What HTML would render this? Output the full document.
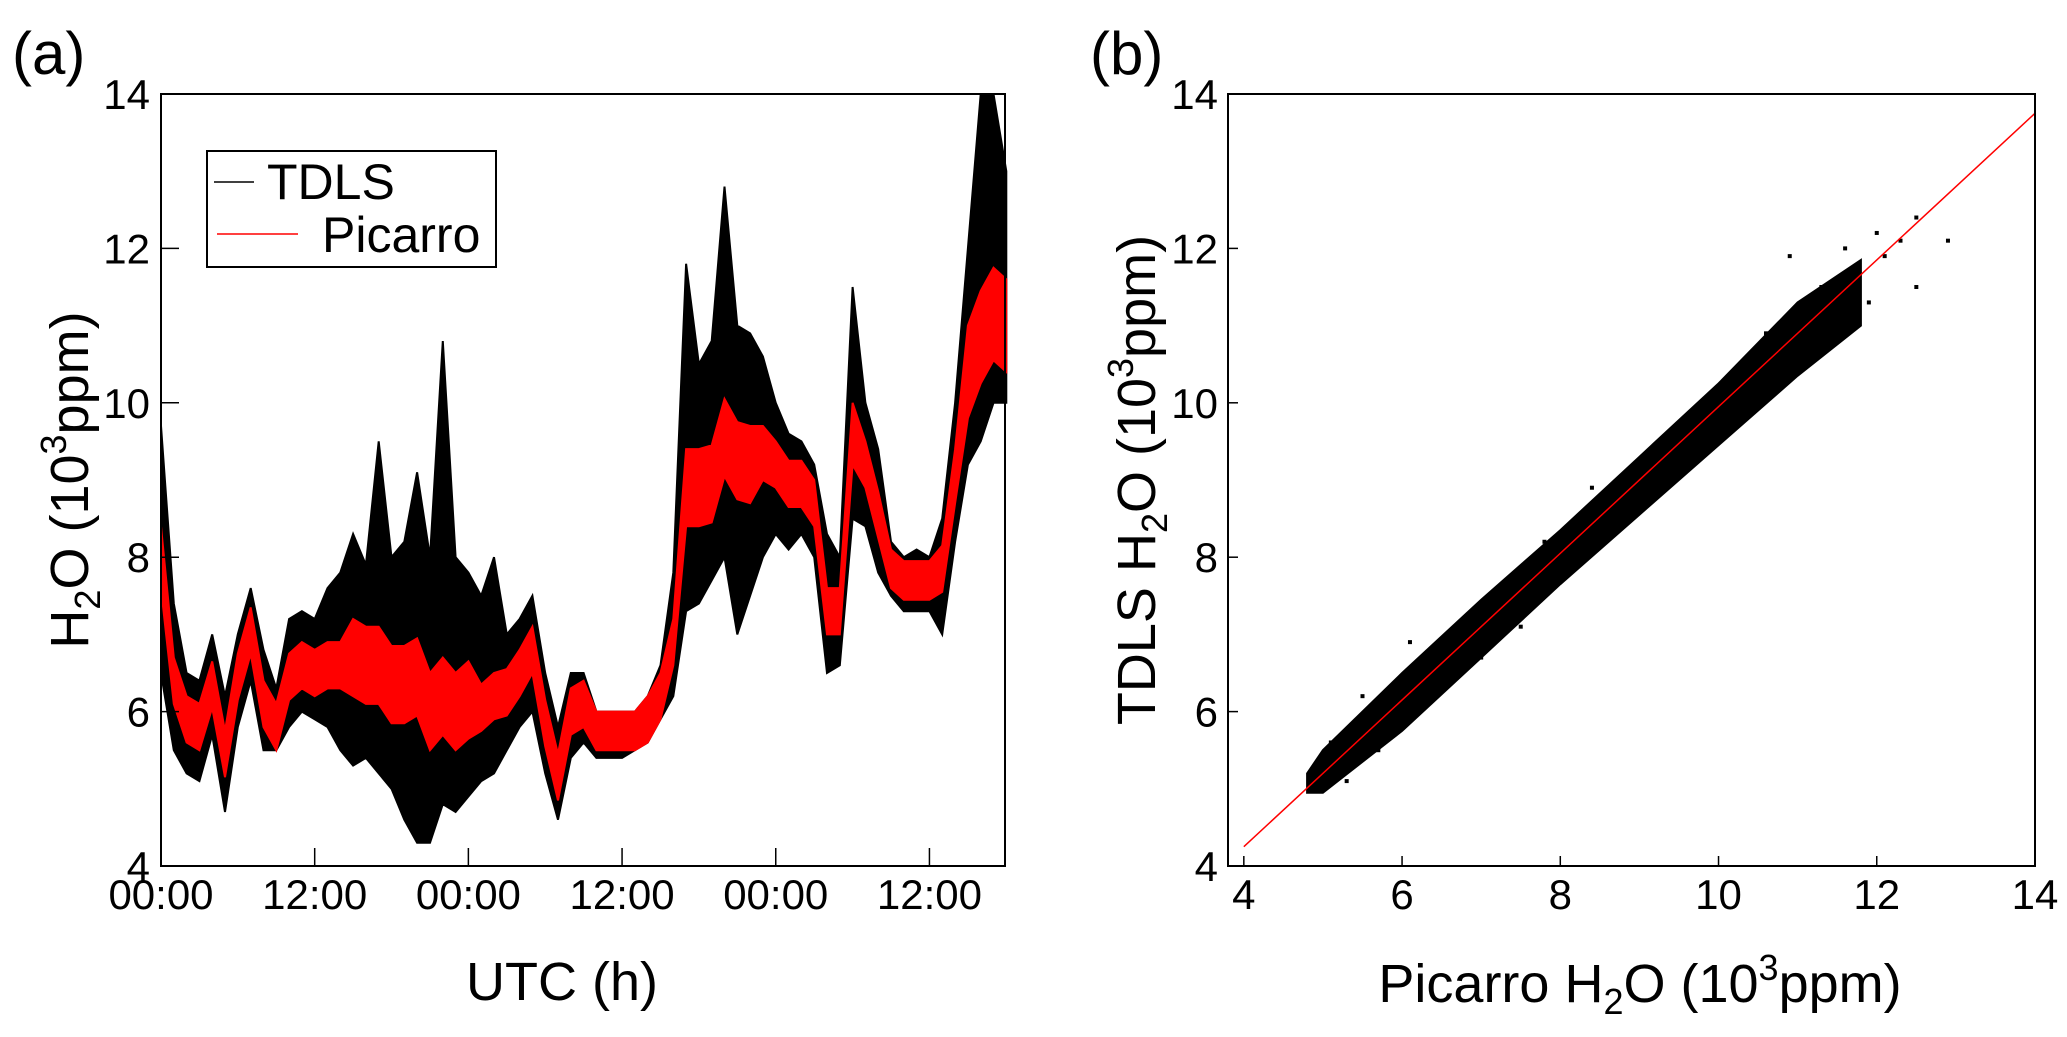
<!DOCTYPE html>
<html><head><meta charset="utf-8"><style>
html,body{margin:0;padding:0;background:#fff}
svg text{font-family:"Liberation Sans",Arial,sans-serif;fill:#000}
</style></head><body>
<svg id="fig" width="2067" height="1032" viewBox="0 0 2067 1032" xmlns="http://www.w3.org/2000/svg">
<rect width="2067" height="1032" fill="#fff"/>
<g id="pa"></g>
<g id="pb"></g>
</svg>
<script>
// ---------- Panel (a) data: hourly envelopes ----------
const hours = [];
for (let h = 0; h <= 66; h++) hours.push(h);
const tdlsMin = [6.5,5.5,5.2,5.1,5.7,4.7,5.8,6.4,5.5,5.5,5.8,6.0,5.9,5.8,5.5,5.3,5.4,5.2,5.0,4.6,4.3,4.3,4.8,4.7,4.9,5.1,5.2,5.5,5.8,6.0,5.2,4.6,5.4,5.6,5.4,5.4,5.4,5.5,5.6,5.9,6.2,7.3,7.4,7.7,8.0,7.0,7.5,8.0,8.3,8.1,8.3,8.0,6.5,6.6,8.5,8.4,7.8,7.5,7.3,7.3,7.3,7.0,8.2,9.2,9.5,10.0,10.0];
const tdlsMax = [9.7,7.4,6.5,6.4,7.0,6.2,7.0,7.6,6.8,6.3,7.2,7.3,7.2,7.6,7.8,8.3,7.9,9.5,8.0,8.2,9.1,8.0,10.8,8.0,7.8,7.5,8.0,7.0,7.2,7.5,6.5,5.8,6.5,6.5,6.0,6.0,6.0,6.0,6.2,6.6,7.8,11.8,10.5,10.8,12.8,11.0,10.9,10.6,10.0,9.6,9.5,9.2,8.3,8.0,11.5,10.0,9.4,8.2,8.0,8.1,8.0,8.5,10.0,12.0,14.0,14.0,13.0];
const picMin = [7.6,6.1,5.6,5.5,6.05,5.15,6.15,6.75,5.8,5.5,6.15,6.3,6.2,6.3,6.3,6.2,6.1,6.1,5.85,5.85,5.95,5.5,5.7,5.5,5.65,5.75,5.9,5.95,6.2,6.5,5.55,4.85,5.7,5.8,5.5,5.5,5.5,5.5,5.6,5.9,6.6,8.4,8.4,8.45,9.05,8.75,8.7,9.0,8.9,8.65,8.65,8.4,7.0,7.0,9.2,8.9,8.25,7.6,7.45,7.45,7.45,7.55,8.7,9.8,10.25,10.55,10.4];
const picMax = [8.4,6.7,6.2,6.1,6.65,5.75,6.75,7.35,6.4,6.1,6.75,6.9,6.8,6.9,6.9,7.2,7.1,7.1,6.85,6.85,6.95,6.5,6.7,6.5,6.65,6.35,6.5,6.55,6.8,7.1,6.15,5.45,6.3,6.4,6.0,6.0,6.0,6.0,6.2,6.5,7.2,9.4,9.4,9.45,10.05,9.75,9.7,9.7,9.5,9.25,9.25,9.0,7.6,7.6,10.0,9.5,8.85,8.1,7.95,7.95,7.95,8.15,9.4,11.0,11.45,11.75,11.6];
const xTickHours = [0,12,24,36,48,60];
const xTickLabels = ["00:00","12:00","00:00","12:00","00:00","12:00"];
const yTicks = [4,6,8,10,12,14];

// ---------- Panel (b) data ----------
const bandX  = [4.8,5.0,6.0,7.0,8.0,9.0,10.0,11.0,11.8];
const bandLo = [4.95,4.95,5.75,6.7,7.65,8.55,9.45,10.35,11.0];
const bandHi = [5.2,5.5,6.5,7.45,8.35,9.3,10.25,11.3,11.85];
const outX = [5.1,5.5,6.3,6.8,7.3,7.5,8.4,9.0,9.7,10.4,10.9,11.3,11.6,12.0,12.3,12.5,12.9,12.5,11.9,12.1,5.7,6.1,7.0,8.1,9.4,10.2,11.0,5.3,5.9,6.6,7.8,8.8,10.6,11.5];
const outY = [5.6,6.2,6.6,7.2,7.6,7.1,8.9,8.8,9.6,10.4,11.9,11.5,12.0,12.2,12.1,12.4,12.1,11.5,11.3,11.9,5.5,6.9,6.7,7.9,9.2,9.8,10.8,5.1,6.3,6.4,8.2,8.5,10.9,11.0];
const fitSlope = 0.95, fitIntercept = 0.45;
const bXTicks = [4,6,8,10,12,14];
const bYTicks = [4,6,8,10,12,14];

const NS = "http://www.w3.org/2000/svg";
function mk(parent, tag, attrs, txt){
  const e = document.createElementNS(NS, tag);
  for (const k in attrs) e.setAttribute(k, attrs[k]);
  if (txt !== undefined) e.textContent = txt;
  parent.appendChild(e);
  return e;
}

// ---------- Panel (a) ----------
const A = {l:161, r:1005, t:94, b:866, xmax:65.9};
const ax = h => A.l + h/A.xmax*(A.r-A.l);
const ay = v => A.b - (v-4)/10*(A.b-A.t);
const pa = document.getElementById('pa');

function band(parent, xs, lo, hi, fx, fy, fill){
  let d = '';
  xs.forEach((x,i)=>{ d += (i?'L':'M') + fx(x).toFixed(1) + ' ' + fy(Math.min(hi[i],14)).toFixed(1); });
  for (let i = xs.length-1; i >= 0; i--) d += 'L' + fx(xs[i]).toFixed(1) + ' ' + fy(lo[i]).toFixed(1);
  return mk(parent,'path',{d:d+'Z', fill:fill, stroke:fill, 'stroke-width':2});
}
const tb = band(pa, hours, tdlsMin, tdlsMax, ax, ay, '#000');


const pb2 = band(pa, hours, picMin, picMax, ax, ay, '#f00');



const frameA = mk(pa,'rect',{x:A.l,y:A.t,width:A.r-A.l,height:A.b-A.t,fill:'none',stroke:'#000','stroke-width':2});


xTickHours.forEach((h,i)=>{
  const x = ax(h);
  const t = mk(pa,'line',{x1:x,x2:x,y1:A.b,y2:A.b-18,stroke:'#000','stroke-width':1.5});
  
  
  const l = mk(pa,'text',{x:x,y:909,'font-size':42,'text-anchor':'middle'}, xTickLabels[i]);
  
  
});
yTicks.forEach(v=>{
  const y = ay(v);
  const t = mk(pa,'line',{x1:A.l,x2:A.l+18,y1:y,y2:y,stroke:'#000','stroke-width':1.5});
  
  
  const l = mk(pa,'text',{x:150,y:y+15,'font-size':42,'text-anchor':'end'}, String(v));
  
  
});

// ---------- Panel (b) ----------
const B = {l:1228, r:2035, t:94, b:866, xmin:3.8, xmax:14};
const bx = v => B.l + (v-B.xmin)/(B.xmax-B.xmin)*(B.r-B.l);
const by = v => B.b - (v-4)/10*(B.b-B.t);
const pbG = document.getElementById('pb');
const cloud = band(pbG, bandX, bandLo, bandHi, bx, by, '#000');


outX.forEach((x,i)=>{
  const p = mk(pbG,'rect',{x:bx(x)-2,y:by(outY[i])-2,width:4,height:4,fill:'#000'});
  
  
});
const fit = mk(pbG,'line',{x1:bx(4),y1:by(fitSlope*4+fitIntercept),x2:bx(14),y2:by(fitSlope*14+fitIntercept),stroke:'#f00','stroke-width':1.5});


const frameB = mk(pbG,'rect',{x:B.l,y:B.t,width:B.r-B.l,height:B.b-B.t,fill:'none',stroke:'#000','stroke-width':2});


bXTicks.forEach(v=>{
  const x = bx(v);
  const t = mk(pbG,'line',{x1:x,x2:x,y1:B.b,y2:B.b-10,stroke:'#000','stroke-width':1.5});
  
  
  const l = mk(pbG,'text',{x:x,y:909,'font-size':42,'text-anchor':'middle'}, String(v));
  
  
});
bYTicks.forEach(v=>{
  const y = by(v);
  const t = mk(pbG,'line',{x1:B.l,x2:B.l+10,y1:y,y2:y,stroke:'#000','stroke-width':1.5});
  
  
  const l = mk(pbG,'text',{x:1218,y:y+15,'font-size':42,'text-anchor':'end'}, String(v));
  
  
});
</script>
<svg width="2067" height="1032" style="position:absolute;left:0;top:0" xmlns="http://www.w3.org/2000/svg">
  <text x="12" y="74" font-size="60">(a)</text>
  <text x="1090" y="74" font-size="60">(b)</text>
  <g>
    <rect x="207" y="151" width="289" height="116" fill="#fff" stroke="#000" stroke-width="2"/>
    <line x1="214" x2="254" y1="182" y2="182" stroke="#000" stroke-width="1.5"/>
    <text x="267" y="199" font-size="50">TDLS</text>
    <line x1="217" x2="298" y1="234" y2="234" stroke="#f00" stroke-width="1.5"/>
    <text x="322" y="252" font-size="50">Picarro</text>
  </g>
  <text x="562" y="1000" font-size="54" text-anchor="middle">UTC (h)</text>
  <text transform="translate(88,480) rotate(-90)" font-size="54" text-anchor="middle">H<tspan font-size="36" dy="12">2</tspan><tspan dy="-12">O (10</tspan><tspan font-size="36" dy="-22">3</tspan><tspan dy="22">ppm)</tspan></text>
  <text x="1640" y="1002" font-size="54" text-anchor="middle">Picarro H<tspan font-size="36" dy="12">2</tspan><tspan dy="-12">O (10</tspan><tspan font-size="36" dy="-22">3</tspan><tspan dy="22">ppm)</tspan></text>
  <text transform="translate(1155,480) rotate(-90)" font-size="54" text-anchor="middle">TDLS H<tspan font-size="36" dy="12">2</tspan><tspan dy="-12">O (10</tspan><tspan font-size="36" dy="-22">3</tspan><tspan dy="22">ppm)</tspan></text>
</svg>
</body></html>
